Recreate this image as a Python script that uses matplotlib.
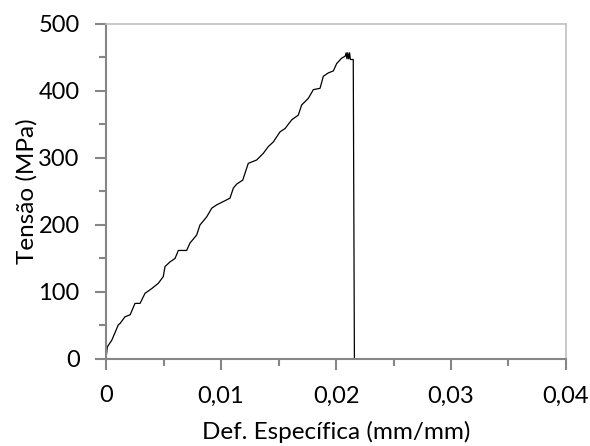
import matplotlib.pyplot as plt
from matplotlib.ticker import FixedLocator, FuncFormatter

# strain (mm/mm) and stress (MPa)
strain = [0.0, 0.00011, 0.0005, 0.00107, 0.00122, 0.00165, 0.0021, 0.00252, 0.00296,
          0.00339, 0.00397, 0.00455, 0.00498, 0.00513, 0.00557, 0.006, 0.00629, 0.00701,
          0.0073, 0.00788, 0.00817, 0.00875, 0.00919, 0.00962, 0.0102, 0.01078, 0.01107,
          0.01136, 0.01189, 0.01237, 0.0131, 0.01368, 0.01411, 0.01455, 0.01513, 0.01557,
          0.01615, 0.01672, 0.01701, 0.01759, 0.01803, 0.01861, 0.0189, 0.01933, 0.01977,
          0.02006, 0.02049, 0.0208, 0.02088, 0.02095, 0.02102, 0.0211, 0.02118, 0.02125,
          0.0214, 0.0215, 0.0216]
stress = [0, 18, 28, 51, 53, 63, 66, 83, 83,
          98, 105, 113, 123, 138, 145, 150, 162, 162,
          173, 185, 200, 212, 225, 230, 235, 240, 255,
          261, 267, 292, 297, 307, 317, 324, 339, 344,
          357, 364, 379, 389, 402, 404, 422, 427, 430,
          441, 449, 452, 457, 448, 457, 448, 457, 447,
          447, 447, 0]

x_major = [0, 0.01, 0.02, 0.03, 0.04]
x_minor = [0.005, 0.015, 0.025, 0.035]
y_major = [0, 100, 200, 300, 400, 500]
y_minor = [50, 150, 250, 350, 450]

plt.rcParams["font.family"] = ["Lato", "DejaVu Sans"]

fig = plt.figure(figsize=(5.9, 4.46), dpi=100)
ax = fig.add_axes([0.1797, 0.1951, 0.7796, 0.7511])

ax.plot(strain, stress, color="black", lw=0.9)

ax.set_xlim(0, 0.04)
ax.set_ylim(0, 500)
ax.xaxis.set_major_locator(FixedLocator(x_major))
ax.xaxis.set_minor_locator(FixedLocator(x_minor))
ax.yaxis.set_major_locator(FixedLocator(y_major))
ax.yaxis.set_minor_locator(FixedLocator(y_minor))
ax.xaxis.set_major_formatter(FuncFormatter(lambda v, p: "0" if v == 0 else f"{v:.2f}".replace(".", ",")))
ax.yaxis.set_major_formatter(FuncFormatter(lambda v, p: f"{v:.0f}"))

axis_grey = "#868686"
border_grey = "#c0c0c0"
for side in ("left", "bottom"):
    ax.spines[side].set_color(axis_grey)
    ax.spines[side].set_linewidth(1.5)
for side in ("top", "right"):
    ax.spines[side].set_color(border_grey)
    ax.spines[side].set_linewidth(1.2)

ax.tick_params(axis="both", which="major", direction="out", length=8, width=1.5,
               color=axis_grey, labelsize=17, labelcolor="black")
ax.tick_params(axis="both", which="minor", direction="out", length=5, width=1.5,
               color=axis_grey)
ax.tick_params(axis="y", which="major", pad=11)
ax.tick_params(axis="x", which="major", pad=11)

# axis titles centred on the plot area, as in the spreadsheet original
ax.set_xlabel("Def. Específica (mm/mm)", fontsize=17.5, va="center")
ax.set_ylabel("Tensão (MPa)", fontsize=17.5, va="center")
ax.xaxis.set_label_coords(0.5695, 0.031, transform=fig.transFigure)
ax.yaxis.set_label_coords(0.046, 0.5706, transform=fig.transFigure)

fig.savefig("out.png", dpi=100)
